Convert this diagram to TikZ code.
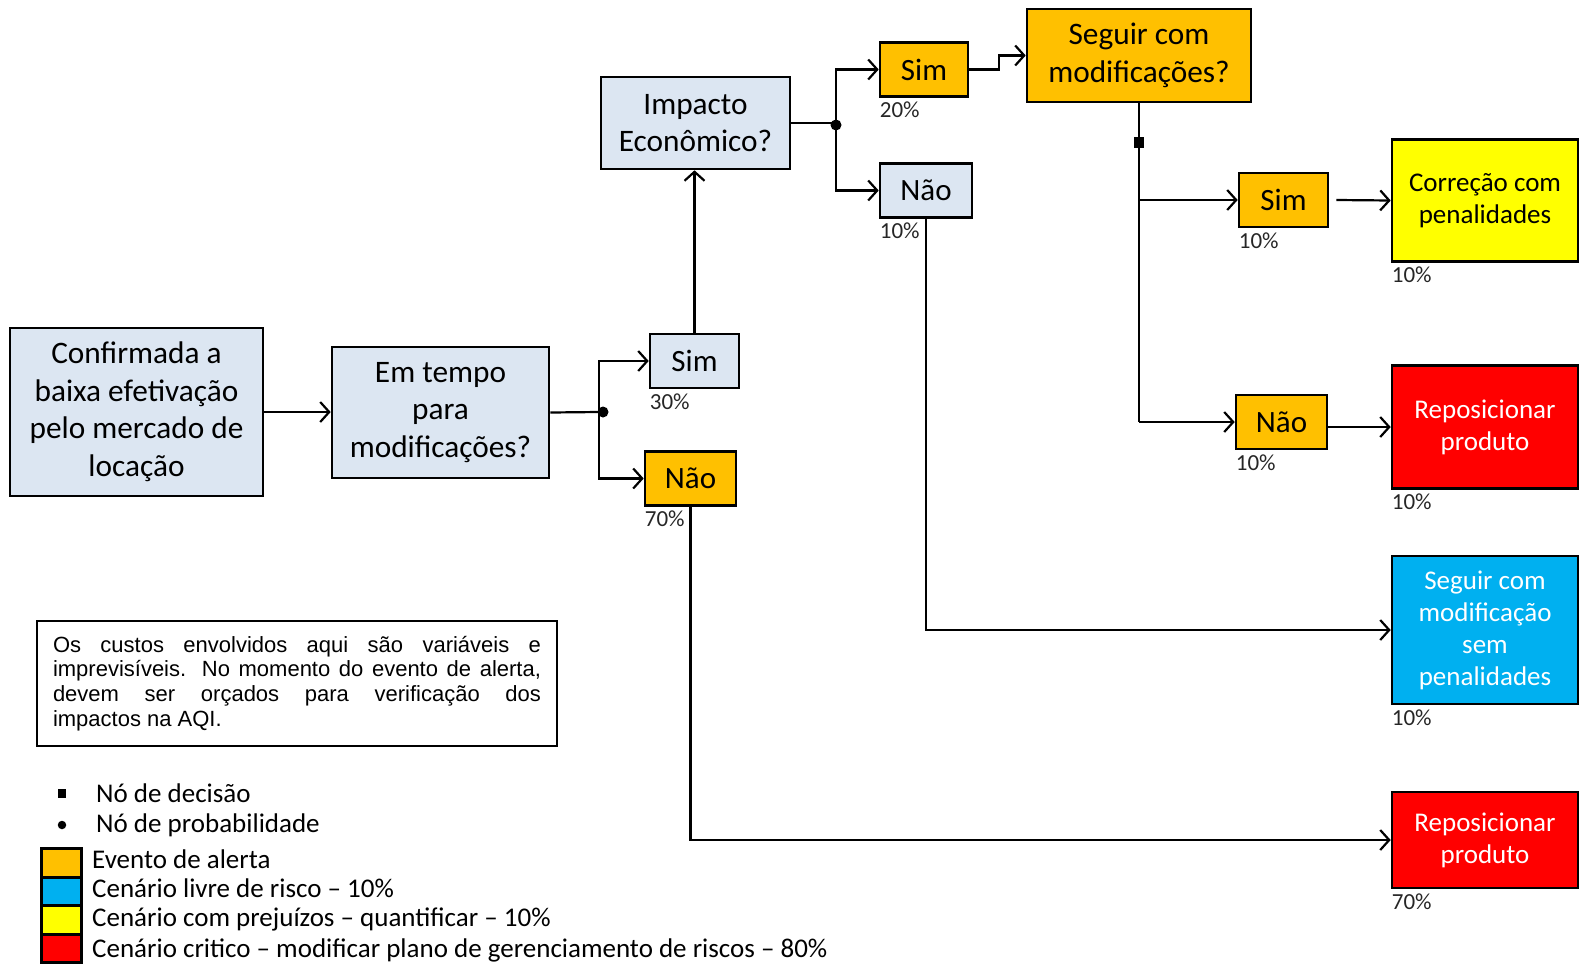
\documentclass[tikz,border=0pt]{standalone}
\usepackage{fontspec}
\setmainfont{Carlito}
\newfontfamily\notefont{Liberation Sans}
\usetikzlibrary{arrows.meta}
\definecolor{paleblue}{HTML}{DCE6F2}
\definecolor{alertc}{HTML}{FFC000}
\definecolor{warnc}{HTML}{FFFF00}
\definecolor{critc}{HTML}{FF0000}
\definecolor{freec}{HTML}{00B0F0}
\tikzset{
  box/.style={draw,line width=2.6pt,align=center,inner sep=0pt,font=\fontsize{31.3}{37.5}\selectfont},
  small/.style={box,minimum width=89,minimum height=54,font=\fontsize{31}{35}\selectfont},
  endbox/.style={box,minimum width=186,font=\fontsize{27}{32}\selectfont},
  pale/.style={fill=paleblue},
  alert/.style={fill=alertc},
  pct/.style={anchor=north west,inner sep=1pt,yshift=-3pt,text=black!85,font=\fontsize{23}{26}\selectfont},
  ln/.style={line width=2.2pt},
  arr/.style={line width=2.2pt,-{Straight Barb[length=9pt,width=20pt]}},
  prob/.style={circle,fill,inner sep=0pt,minimum size=11pt},
  dec/.style={rectangle,fill,inner sep=0pt,minimum width=10pt,minimum height=11pt},
  swatch/.style={draw,line width=2.6pt,minimum width=40.5,minimum height=28.5,inner sep=0pt},
  lgd/.style={anchor=west,inner sep=0pt,font=\fontsize{27}{30}\selectfont}
}
\begin{document}
\begin{tikzpicture}[x=1pt,y=-1pt]
\useasboundingbox (0,0) rectangle (1581,964);
\node[box,pale,minimum width=253,minimum height=168] (conf) at (136.5,412) {Confirmada a\\baixa efetivação\\pelo mercado de\\locação};
\node[box,pale,minimum width=217,minimum height=131] (tempo) at (440.5,412.5) {Em tempo\\para\\modificações?};
\node[small,pale] (sim1) at (694.5,361) {Sim};
\node[small,alert,minimum width=91] (nao1) at (690.5,478.5) {Não};
\node[box,pale,minimum width=189,minimum height=92] (impacto) at (695.5,123) {Impacto\\Econômico?};
\node[small,alert,minimum width=88] (sim2) at (924,69.5) {Sim};
\node[small,pale,minimum width=92] (nao2) at (926,190.5) {Não};
\node[box,alert,minimum width=224,minimum height=93] (seguir) at (1139,55.5) {Seguir com\\modificações?};
\node[small,alert] (sim3) at (1283.5,200) {Sim};
\node[small,alert,minimum width=91] (nao3) at (1281.5,422) {Não};
\node[endbox,fill=warnc,minimum height=122] (correcao) at (1485,200.5) {Correção com\\penalidades};
\node[endbox,fill=critc,text=white,minimum height=123] (repos1) at (1485,427) {Reposicionar\\produto};
\node[endbox,fill=freec,text=white,minimum height=148] (semp) at (1485,630) {Seguir com\\modificação\\sem\\penalidades};
\node[endbox,fill=critc,text=white,minimum height=96] (repos2) at (1485,840) {Reposicionar\\produto};

\node[pct] (p1) at (sim1.south west) {30\%};
\node[pct] (p2) at (nao1.south west) {70\%};
\node[pct] (p3) at (sim2.south west) {20\%};
\node[pct] (p4) at (nao2.south west) {10\%};
\node[pct] (p5) at (sim3.south west) {10\%};
\node[pct] (p6) at (nao3.south west) {10\%};
\node[pct] (p7) at (correcao.south west) {10\%};
\node[pct] (p8) at (repos1.south west) {10\%};
\node[pct] (p9) at (semp.south west) {10\%};
\node[pct] (p10) at (repos2.south west) {70\%};

\coordinate (j1) at (599,412);
\coordinate (j2) at (836,123);
\node[prob] (c1) at (603,412) {};
\node[prob] (c2) at (836,125) {};
\node[dec] (d1) at (1139,142) {};
\coordinate (j3) at (seguir.south |- nao3.west);

\draw[arr] (conf.east) -- (conf.east -| tempo.west);
\draw[ln] (tempo.east) -- (j1);
\draw[arr] (j1) |- (sim1.west);
\draw[arr] (j1) |- (nao1.west);
\draw[arr] (sim1.north) -- (sim1.north |- impacto.south);
\draw[ln] (impacto.east) -- (j2);
\draw[arr] (j2) |- (sim2.west);
\draw[arr] (j2) |- (nao2.west);
\draw[arr] (sim2.east) -- ++(30,0) |- (seguir.west);
\draw[ln] (seguir.south) -- (j3);
\draw[arr] (seguir.south |- sim3.west) -- (sim3.west);
\draw[arr] (j3) -- (nao3.west);
\draw[arr] ([xshift=7pt]sim3.east) -- (correcao.west);
\draw[arr] (nao3.east |- repos1.west) -- (repos1.west);
\draw[arr] (nao2.south) |- (semp.west);
\draw[arr] (nao1.south) |- (repos2.west);

\node[draw,line width=1.2pt,minimum width=520,minimum height=125,text width=488,align=justify,inner sep=0pt,font=\notefont\fontsize{22}{24.7}\selectfont] (note) at (297,683.5)
  {Os custos envolvidos aqui são variáveis e\linebreak imprevisíveis. No momento do evento de alerta,\linebreak devem ser orçados para verificação dos\linebreak impactos na AQI.};

\node[dec,minimum width=8pt,minimum height=9pt] (ld) at (62,793) {};
\node[lgd] (ldt) at (96,793) {Nó de decisão};
\node[prob,minimum size=8.5pt] (lp) at (62,825) {};
\node[lgd] (lpt) at (96,825) {Nó de probabilidade};
\node[swatch,fill=alertc] (s1) at (61.5,863) {};
\node[swatch,fill=freec] (s2) at (61.5,891.5) {};
\node[swatch,fill=warnc] (s3) at (61.5,920) {};
\node[swatch,fill=critc] (s4) at (61.5,948.5) {};
\node[lgd] (t1) at (92,859) {Evento de alerta};
\node[lgd] (t2) at (92,888) {Cenário livre de risco – 10\%};
\node[lgd] (t3) at (92,919) {Cenário com prejuízos – quantificar – 10\%};
\node[lgd] (t4) at (92,950) {Cenário critico – modificar plano de gerenciamento de riscos – 80\%};
\end{tikzpicture}
\end{document}
